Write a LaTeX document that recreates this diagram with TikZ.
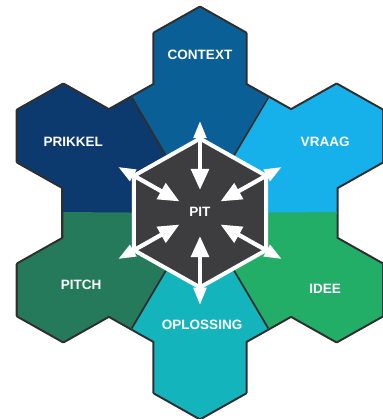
\documentclass[tikz,border=0pt]{standalone}
\usepackage{fontspec}
\setmainfont{Liberation Sans}
\usetikzlibrary{arrows.meta}
\definecolor{contextblue}{RGB}{10, 95, 150}
\definecolor{prikkelblue}{RGB}{12, 58, 110}
\definecolor{vraagblue}{RGB}{22, 176, 234}
\definecolor{ideegreen}{RGB}{35, 174, 103}
\definecolor{oplossingteal}{RGB}{20, 180, 189}
\definecolor{pitchgreen}{RGB}{37, 122, 92}
\definecolor{pitgray}{RGB}{61, 61, 63}
\definecolor{edgegray}{RGB}{47, 47, 48}

\begin{document}
\begin{tikzpicture}[x=1.052cm, y=1.026cm,
    celllabel/.style={text=white, font=\fontsize{7.7}{9}\selectfont\bfseries, inner sep=0pt}]
    \useasboundingbox (-3.802,-4.016) rectangle (3.462,4.152);

    % Outline of the honeycomb
    \draw[edgegray, line width=2.4pt, line join=round]
        \foreach \c in {0:0, 0:1.732, 60:1.732, 120:1.732, 180:1.732, 240:1.732, 300:1.732, 30:3, 90:3, 150:3, 210:3, 270:3, 330:3}
        {(\c) ++(30:1) -- ++(-0.866,0.5) -- ++(-0.866,-0.5) -- ++(0,-1) -- ++(0.866,-0.5) -- ++(0.866,0.5) -- cycle};

    % Coloured cells
    \foreach \a/\col in {90/contextblue, 150/prikkelblue, 30/vraagblue, 330/ideegreen, 270/oplossingteal, 210/pitchgreen} {
        \begin{scope}
            \clip (0,0) -- (\a-30.4:5) -- (\a+30.4:5) -- cycle;
            \fill[\col]
                \foreach \c in {0:0, 0:1.732, 60:1.732, 120:1.732, 180:1.732, 240:1.732, 300:1.732, 30:3, 90:3, 150:3, 210:3, 270:3, 330:3}
                {(\c) ++(30:1) -- ++(-0.866,0.5) -- ++(-0.866,-0.5) -- ++(0,-1) -- ++(0.866,-0.5) -- ++(0.866,0.5) -- cycle};
        \end{scope}
    }

    % Dividers
    \foreach \a in {60,120,240,300}
        \draw[edgegray, line width=1pt] (0,0) -- (\a:2.598);

    % Centre hexagon
    \draw[white, fill=pitgray, line width=2.3pt, line join=round] (30:1.45) -- (90:1.45) -- (150:1.45) -- (210:1.45) -- (270:1.45) -- (330:1.45) -- cycle;

    % Arrows into the centre
    \foreach \a in {30,90,...,330} {
        \coordinate (spike\a) at (\a:1.8);
        \coordinate (head\a) at (\a:0.45);
        \draw[white, line width=2.4pt, {Triangle[length=10pt,width=7pt]}-{Triangle[length=12pt,width=10pt]}] (spike\a) -- (head\a);
    }

    % Labels
    \node[celllabel] (pit) at (0,0.02) {PIT};
    \node[celllabel] (context) at (0,3.08) {CONTEXT};
    \node[celllabel] (prikkel) at (-2.41,1.38) {PRIKKEL};
    \node[celllabel] (vraag) at (2.38,1.38) {VRAAG};
    \node[celllabel] (pitch) at (-2.26,-1.40) {PITCH};
    \node[celllabel] (idee) at (2.38,-1.48) {IDEE};
    \node[celllabel] (oplossing) at (0.04,-2.18) {OPLOSSING};
\end{tikzpicture}
\end{document}
